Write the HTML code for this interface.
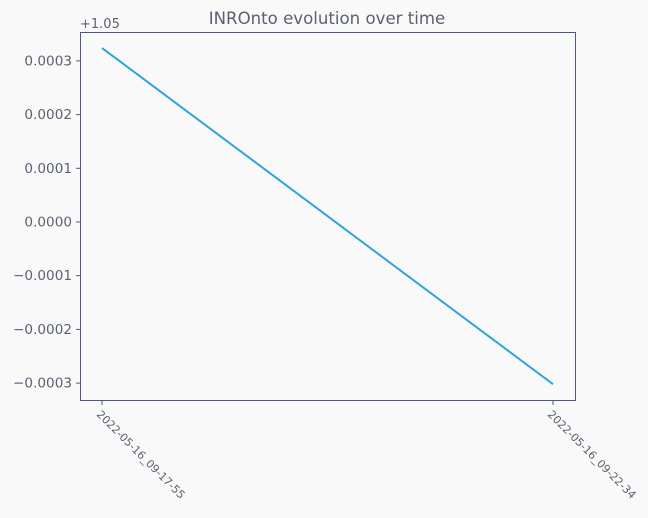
<!DOCTYPE html>
<html><head><meta charset="utf-8"><style>
body{margin:0;background:#f9f9f9;font-family:"DejaVu Sans","Liberation Sans",sans-serif;}
</style></head><body>
<svg id="chart" width="648" height="514" xmlns="http://www.w3.org/2000/svg">
<rect width="648" height="514" fill="#f9f9f9"/>
<text x="327" y="24" text-anchor="middle" font-size="16.6" fill="#5a6270">INROnto evolution over time</text>
<text x="80" y="28" font-size="13" fill="#5a6270">+1.05</text>
<rect x="80.5" y="32.5" width="495" height="368" fill="none" stroke="#4a5a78" stroke-width="1"/>
<g id="yticks"></g><g id="xticks"></g><g id="series"></g>
</svg>
<script>
const categories = ["2022-05-16_09-17-55", "2022-05-16_09-22-34"];
const values = [0.000324, -0.000302];
const yTicks = [0.0003, 0.0002, 0.0001, 0.0, -0.0001, -0.0002, -0.0003];
const yTickLabels = ["0.0003", "0.0002", "0.0001", "0.0000", "\u22120.0001", "\u22120.0002", "\u22120.0003"];

const NS = "http://www.w3.org/2000/svg";
function yScale(v){ return 222 - v / 0.0001 * 53.7; }
function xScale(i){ return 102 + i * (553 - 102) / (categories.length - 1); }
function mk(tag, attrs, parent){ const e=document.createElementNS(NS,tag); for(const k in attrs) e.setAttribute(k,attrs[k]); parent.appendChild(e); return e; }

const yg=document.getElementById('yticks');
yTicks.forEach((t,i)=>{
  const y=yScale(t);
  const l=mk('line',{x1:76,x2:80,y1:y,y2:y,stroke:'#4a5a78'},yg);
  
  
  const tx=mk('text',{x:72,y:y+4.5,'text-anchor':'end','font-size':13.6,fill:'#5a6270'},yg);
  tx.textContent=yTickLabels[i];
  
  
});
const xg=document.getElementById('xticks');
categories.forEach((c,i)=>{
  const x=xScale(i);
  const l=mk('line',{x1:x,x2:x,y1:401,y2:405,stroke:'#4a5a78'},xg);
  
  
  const tx=mk('text',{x:x-6,y:415,'font-size':11,fill:'#5a6270',transform:`rotate(45 ${x-6} 415)`},xg);
  tx.textContent=c;
  
  
});
const sg=document.getElementById('series');
const pts=values.map((v,i)=>xScale(i)+','+yScale(v)).join(' ');
const pl=mk('polyline',{points:pts,fill:'none',stroke:'#2fa4dc','stroke-width':2},sg);


</script>
</body></html>
